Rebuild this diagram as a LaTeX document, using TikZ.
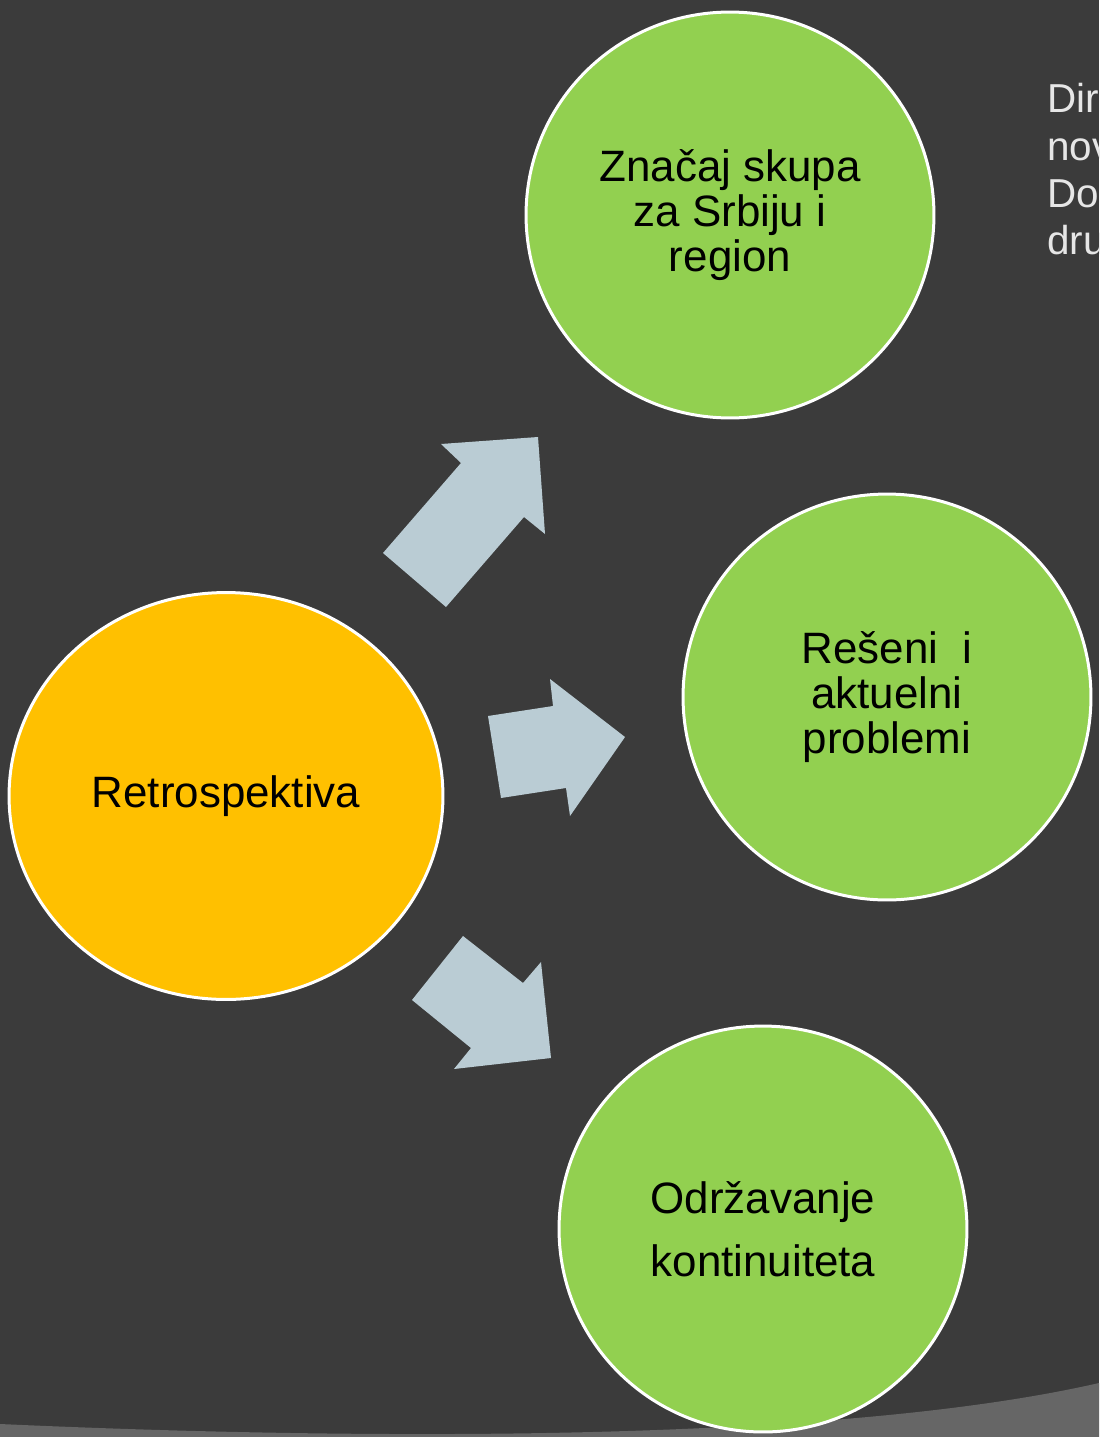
\documentclass[tikz,border=0pt]{standalone}
\usepackage{fontspec}
\setmainfont{Liberation Sans}
\usetikzlibrary{shapes.geometric}
\definecolor{slidebg}{HTML}{3B3B3B}
\definecolor{swoosh}{HTML}{666666}
\definecolor{leafgreen}{HTML}{92D050}
\definecolor{amber}{HTML}{FFC000}
\definecolor{arrowblue}{HTML}{BACCD4}
\definecolor{notegray}{HTML}{E6E6E6}

\begin{document}
\begin{tikzpicture}[x=0.02cm, y=-0.02cm,
        topicnode/.style={ellipse, draw=white, line width=0.06cm, fill=leafgreen, minimum width=8.16cm, minimum height=8.12cm, inner sep=0pt, align=center, font=\fontsize{25}{25.5}\selectfont},
        blockarrow/.style={fill=arrowblue}]

        \fill[slidebg] (0,0) rectangle (1099,1437);
        \useasboundingbox (0,0) rectangle (1099,1437);
        \fill[swoosh] (0,1424) .. controls (400,1442) and (850,1440) .. (1099,1383) -- (1099,1437) -- (0,1437) -- cycle;

        \fill[blockarrow] (383,553) -- (461,463) -- (441,444) -- (538,437) -- (545,534) -- (524,517) -- (446,607) -- cycle;
        \fill[blockarrow] (488,716) -- (553,706) -- (550,679) -- (625,737) -- (570,816) -- (566,788) -- (501,798) -- cycle;
        \fill[blockarrow] (463,936) -- (523,983) -- (541,962) -- (551,1058) -- (454,1069) -- (471,1048) -- (412,1000) -- cycle;

        \node[topicnode] (znacaj) at (730,215) {Značaj skupa\\za Srbiju i\\region};
        \node[topicnode] (reseni) at (887,697) {Rešeni\ \ i\\aktuelni\\problemi};
        \node[topicnode, font=\fontsize{25}{35.7}\selectfont] (odrzavanje) at (763,1229) {Održavanje\\kontinuiteta};
        \node[topicnode, fill=amber, minimum width=8.68cm, minimum height=8.14cm] (retro) at (226,796) {Retrospektiva};

        \begin{scope}
        \clip (0,0) rectangle (1099,1437);
        \node[anchor=north west, align=left, text=notegray, inner sep=0pt, font=\fontsize{23}{27}\selectfont] (napomena) at (1047,83) {Dir\\nov\\Do\\dru};
        \end{scope}

\end{tikzpicture}
\end{document}
